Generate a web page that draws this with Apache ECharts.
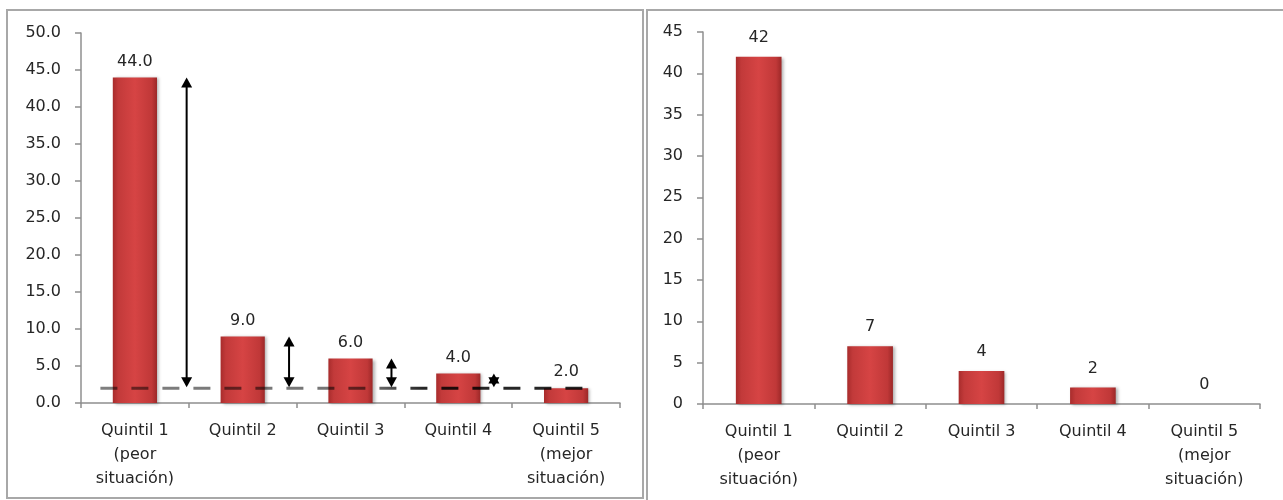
<!DOCTYPE html>
<html>
<head>
<meta charset="utf-8">
<script src="https://cdn.jsdelivr.net/npm/echarts@6/dist/echarts.min.js"></script>
<style>
  html, body { margin: 0; padding: 0; background: #fff; }
  #chart { width: 1283px; height: 500px; }
</style>
</head>
<body>
<div id="chart"></div>
<script>
// Quintile categories (same for both panels)
const categoriesLeft = ['Quintil 1\n(peor\nsituación)', 'Quintil 2', 'Quintil 3', 'Quintil 4', 'Quintil 5\n(mejor\nsituación)'];
const categoriesRight = ['Quintil 1\n(peor\nsituación)', 'Quintil 2', 'Quintil 3', 'Quintil 4', 'Quintil 5\n(mejor\nsituación)'];

// Left panel values and the reference level (best quintile)
const valuesLeft = [44.0, 9.0, 6.0, 4.0, 2.0];
const referenceLevel = valuesLeft[valuesLeft.length - 1];

// Right panel values (gap to the best quintile)
const valuesRight = [42, 7, 4, 2, 0];

// Axis ranges
const leftAxis = { min: 0, max: 50, interval: 5 };
const rightAxis = { min: 0, max: 45, interval: 5 };

const FONT = 'DejaVu Sans';
const FS = 16;
const TEXT = '#262626';
const AXIS = '#8f8f8f';

const barFill = new echarts.graphic.LinearGradient(0, 0, 1, 0, [
  { offset: 0, color: '#a82c2c' },
  { offset: 0.12, color: '#c23a3a' },
  { offset: 0.5, color: '#d64444' },
  { offset: 0.88, color: '#c03838' },
  { offset: 1, color: '#9c2828' }
]);

function barSeries(xi, yi, data, fmt, dist) {
  return {
    type: 'bar',
    xAxisIndex: xi,
    yAxisIndex: yi,
    data: data,
    barWidth: '41%',
    itemStyle: {
      color: barFill,
      shadowBlur: 3,
      shadowOffsetX: 2,
      shadowOffsetY: 1,
      shadowColor: 'rgba(0,0,0,0.3)'
    },
    label: {
      show: true,
      position: 'top',
      distance: dist,
      fontFamily: FONT,
      fontSize: FS,
      color: TEXT,
      formatter: p => fmt(p.value)
    },
    z: 2
  };
}

// Double-headed arrows from each bar's top down to the reference level
const arrowData = valuesLeft.slice(0, valuesLeft.length - 1).map((v, i) => [i, v, referenceLevel]);

function renderArrow(params, api) {
  const top = api.coord([api.value(0), api.value(1)]);
  const bot = api.coord([api.value(0), api.value(2)]);
  const band = api.size([1, 0])[0];
  const x = top[0] + band * (0.48 - 0.05 * api.value(0));
  const yT = top[1], yB = bot[1] - 1;
  const hw = 5.5, hh = 10;
  return {
    type: 'group',
    children: [
      { type: 'line', shape: { x1: x, y1: yT + hh - 1, x2: x, y2: yB - hh + 1 },
        style: { stroke: '#000', lineWidth: 2 } },
      { type: 'polygon', shape: { points: [[x, yT], [x - hw, yT + hh], [x + hw, yT + hh]] },
        style: { fill: '#000' } },
      { type: 'polygon', shape: { points: [[x, yB], [x - hw, yB - hh], [x + hw, yB - hh]] },
        style: { fill: '#000' } }
    ]
  };
}

// Dashed reference line across the left panel
function renderRefLine(params, api) {
  const first = api.coord([0, api.value(0)]);
  const last = api.coord([valuesLeft.length - 1, api.value(0)]);
  const band = api.size([1, 0])[0];
  const x1 = first[0] - band * 0.32;
  const x2 = last[0] + band * 0.21;
  const stroke = new echarts.graphic.LinearGradient(x1, 0, x2, 0, [
    { offset: 0, color: 'rgba(0,0,0,0.5)' },
    { offset: 0.55, color: 'rgba(0,0,0,0.55)' },
    { offset: 0.66, color: 'rgba(0,0,0,0.85)' },
    { offset: 1, color: 'rgba(0,0,0,0.85)' }
  ], true);
  return {
    type: 'line',
    shape: { x1: x1, y1: first[1], x2: x2, y2: first[1] },
    style: { stroke: stroke, lineWidth: 3, lineDash: [17, 14] }
  };
}

function catAxis(gi, cats) {
  return {
    type: 'category',
    gridIndex: gi,
    data: cats,
    axisLine: { lineStyle: { color: AXIS, width: 1.5 } },
    axisTick: { show: true, length: 5, lineStyle: { color: AXIS, width: 1.5 } },
    axisLabel: { fontFamily: FONT, fontSize: FS, color: TEXT, lineHeight: 24, margin: 16, interval: 0 }
  };
}

function valAxis(gi, range, fmt) {
  return {
    type: 'value',
    gridIndex: gi,
    min: range.min,
    max: range.max,
    interval: range.interval,
    splitLine: { show: false },
    axisLine: { show: true, lineStyle: { color: AXIS, width: 1.5 } },
    axisTick: { show: true, length: 6, lineStyle: { color: AXIS, width: 1.5 } },
    axisLabel: { fontFamily: FONT, fontSize: FS, color: TEXT, margin: 20, formatter: fmt }
  };
}

const chart = echarts.init(document.getElementById('chart'), null, { renderer: 'canvas' });

chart.setOption({
  animation: false,
  backgroundColor: '#fff',
  grid: [
    { left: 81, right: 663, top: 33, bottom: 97 },
    { left: 703, right: 23, top: 32, bottom: 96 }
  ],
  xAxis: [catAxis(0, categoriesLeft), catAxis(1, categoriesRight)],
  yAxis: [
    valAxis(0, leftAxis, v => v.toFixed(1)),
    valAxis(1, rightAxis, v => String(v))
  ],
  graphic: [
    { type: 'rect', shape: { x: 7, y: 10, width: 636, height: 488 },
      style: { fill: 'none', stroke: '#a8a8a8', lineWidth: 2 }, silent: true },
    { type: 'line', shape: { x1: 647, y1: 9, x2: 647, y2: 500 },
      style: { stroke: '#a8a8a8', lineWidth: 2 }, silent: true },
    { type: 'line', shape: { x1: 647, y1: 10, x2: 1283, y2: 10 },
      style: { stroke: '#a8a8a8', lineWidth: 2 }, silent: true }
  ],
  series: [
    barSeries(0, 0, valuesLeft, v => v.toFixed(1), 8),
    {
      type: 'custom',
      xAxisIndex: 0,
      yAxisIndex: 0,
      data: [[referenceLevel]],
      renderItem: renderRefLine,
      clip: false,
      silent: true,
      z: 3
    },
    {
      type: 'custom',
      xAxisIndex: 0,
      yAxisIndex: 0,
      data: arrowData,
      renderItem: renderArrow,
      clip: false,
      silent: true,
      z: 4
    },
    barSeries(1, 1, valuesRight, v => String(v), 11)
  ]
});
</script>
</body>
</html>
